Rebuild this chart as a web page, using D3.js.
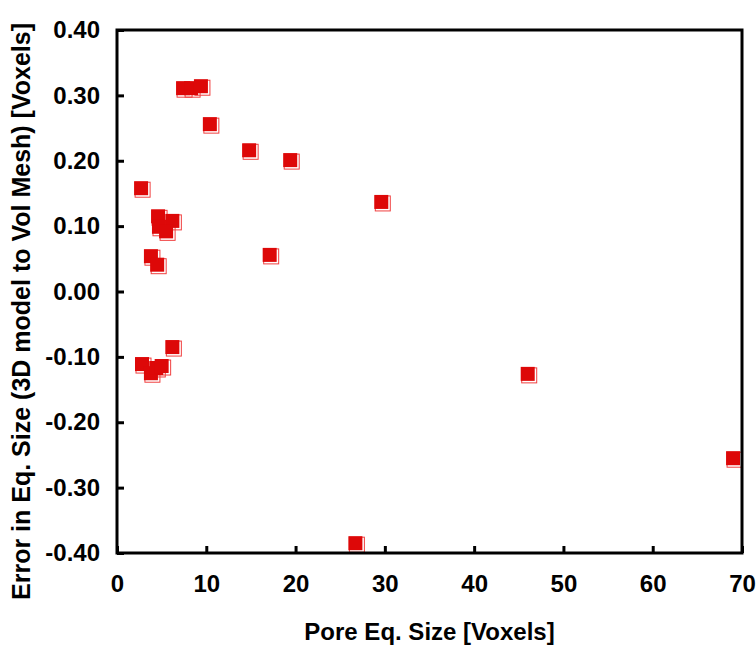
<!DOCTYPE html>
<html><head><meta charset="utf-8">
<script src="https://cdn.jsdelivr.net/npm/d3@7"></script>
<style>body{margin:0;background:#fff}text{font-family:"Liberation Sans",Arial,sans-serif;font-weight:bold;fill:#000}</style>
</head><body><svg id="c" width="756" height="645"></svg>
<script>
const poreSize = [7.4, 8.3, 9.4, 10.4, 14.8, 19.4, 29.6, 17.1, 2.7, 4.6, 6.2, 4.7, 5.5, 3.8, 4.5, 6.2, 2.8, 3.8, 4.4, 5.0, 26.7, 46.0, 69.0];
const sizeError = [0.311, 0.311, 0.314, 0.256, 0.216, 0.201, 0.137, 0.056, 0.158, 0.115, 0.108, 0.099, 0.092, 0.054, 0.041, -0.085, -0.111, -0.125, -0.117, -0.114, -0.385, -0.126, -0.255];
const xTicks = [0, 10, 20, 30, 40, 50, 60, 70];
const yTicks = [0.4, 0.3, 0.2, 0.1, 0.0, -0.1, -0.2, -0.3, -0.4];

const svg = d3.select("#c");
const L = 117, R = 742, T = 30, B = 553;
const x = d3.scaleLinear().domain([0, 70]).range([L, R]);
const y = d3.scaleLinear().domain([-0.4, 0.4]).range([B, T]);

// points
const red = "#dd0808";
const g = svg.append("g");
const pts = poreSize.map((v, i) => ({x: v, y: sizeError[i]}));
g.selectAll("rect.sh").data(pts).enter().append("rect")
  .attr("x", d => x(d.x) - 6).attr("y", d => y(d.y) - 6)
  .attr("width", 15).attr("height", 15)
  .attr("fill", "none").attr("stroke", "#f04040").attr("stroke-width", 1);
g.selectAll("rect.pt").data(pts).enter().append("rect")
  .attr("x", d => x(d.x) - 7).attr("y", d => y(d.y) - 7)
  .attr("width", 14).attr("height", 14)
  .attr("fill", red);

// axes (inward ticks)
const xAxis = d3.axisBottom(x).tickValues(xTicks).tickSizeInner(-7).tickSizeOuter(0).tickPadding(22).tickFormat(d3.format("d"));
const yAxis = d3.axisLeft(y).tickValues(yTicks).tickSizeInner(-7).tickSizeOuter(0).tickPadding(17).tickFormat(d3.format(".2f"));
const gx = svg.append("g").attr("transform", `translate(0,${B})`).call(xAxis);
const gy = svg.append("g").attr("transform", `translate(${L},0)`).call(yAxis);
[gx, gy].forEach(a => {
  a.select(".domain").remove();
  a.selectAll(".tick line").attr("stroke", "#000").attr("stroke-width", 3);
  a.selectAll(".tick text").attr("font-size", 24).attr("font-family", "Liberation Sans, Arial, sans-serif").attr("font-weight", "bold").attr("fill", "#000");
});
gy.selectAll(".tick text").text(d => d3.format(".2f")(d).replace("−", "-"));

// frame
svg.append("rect").attr("x", L).attr("y", T).attr("width", R - L).attr("height", B - T)
  .attr("fill", "none").attr("stroke", "#000").attr("stroke-width", 3);

// titles
svg.append("text").attr("x", (L + R) / 2).attr("y", 640).attr("text-anchor", "middle")
  .attr("font-size", 24).text("Pore Eq. Size [Voxels]");
svg.append("text").attr("transform", `translate(30,${(T + B) / 2 + 20}) rotate(-90)`).attr("text-anchor", "middle")
  .attr("font-size", 25).text("Error in Eq. Size (3D model to Vol Mesh) [Voxels]");
</script></body></html>
